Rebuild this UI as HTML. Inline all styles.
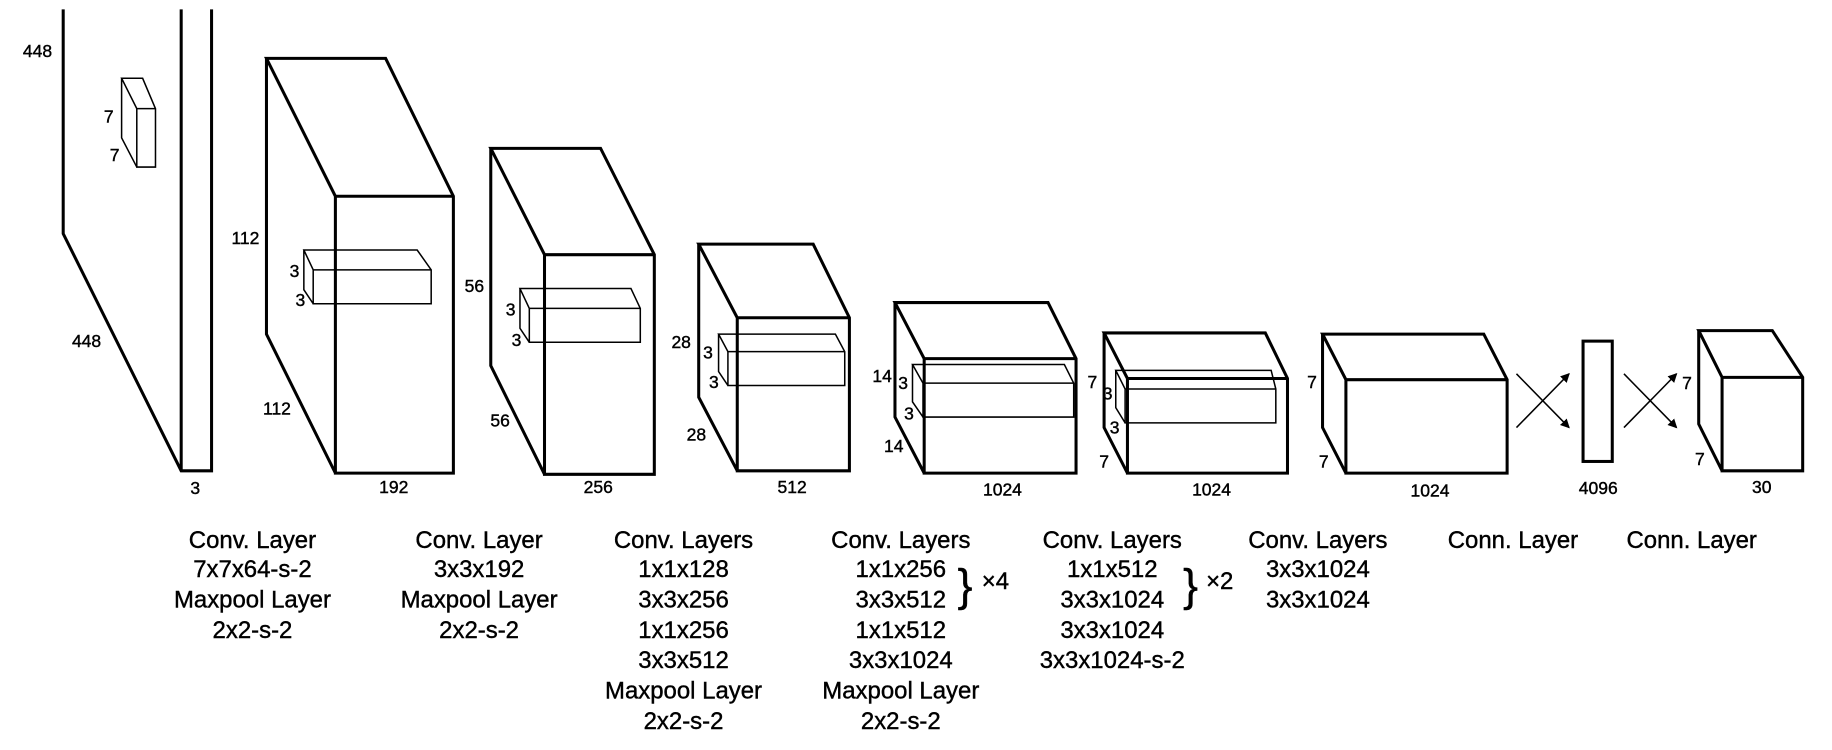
<!DOCTYPE html>
<html><head><style>
html,body{margin:0;padding:0;background:#fff;}
svg{display:block;}
text{font-family:"Liberation Sans",sans-serif;fill:#000;stroke:#000;stroke-width:0.35;}
.t{font-size:20.5px;text-anchor:middle;}
.s{font-size:15px;text-anchor:middle;}
</style></head><body>
<svg width="1832" height="750" viewBox="0 0 1568 642" xmlns="http://www.w3.org/2000/svg">
<defs><marker id="a" markerWidth="8" markerHeight="8" refX="7" refY="4" orient="auto" markerUnits="userSpaceOnUse"><path d="M0,0 L8,4 L0,8 Z" fill="#000"/></marker></defs>
<g fill="none" stroke="#000" stroke-width="2.6" stroke-linejoin="miter">
<path d="M54,8 V200 L155,403 H181 V8 M155,403 V8"/>
<path d="M228,50 H330 L388,168 V405 H287 V168 Z M287,168 H388 M228,50 V286 L287,405"/>
<path d="M420,127 H514 L560,218 V406 H466 V218 Z M466,218 H560 M420,127 V313 L466,406"/>
<path d="M598,209 H696 L727,272 V403 H631 V272 Z M631,272 H727 M598,209 V340 L631,403"/>
<path d="M766,259 H897 L921,307 V405 H791 V307 Z M791,307 H921 M766,259 V357 L791,405"/>
<path d="M945,285 H1083 L1102,324 V405 H965 V324 Z M965,324 H1102 M945,285 V366 L965,405"/>
<path d="M1132,286 H1270 L1290,325 V405 H1152 V325 Z M1152,325 H1290 M1132,286 V366 L1152,405"/>
<rect x="1355" y="292" width="25" height="103"/>
<path d="M1454,283 H1517 L1543,323 V403 H1474 V323 Z M1474,323 H1543 M1454,283 V363 L1474,403"/>
</g>
<g fill="none" stroke="#000" stroke-width="1.3">
<path d="M104,67 H122 L133,93 V143 H117 V93 Z M117,93 H133 M104,67 V118 L117,143 M104,67 L117,93"/>
<path d="M260,214 H357 L369,231 V260 H268 V231 Z M268,231 H369 M260,214 V248 L268,260 M260,214 L268,231"/>
<path d="M445,247 H540 L548,264 V293 H453 V264 Z M453,264 H548 M445,247 V281 L453,293 M445,247 L453,264"/>
<path d="M615,286 H715 L723,301 V330 H623 V301 Z M623,301 H723 M615,286 V318 L623,330 M615,286 L623,301"/>
<path d="M781,312 H911 L919,328 V357 H790 V328 Z M790,328 H919 M781,312 V344 L790,357 M781,312 L790,328"/>
<path d="M955,317 H1088 L1092,333 V362 H963 V333 Z M963,333 H1092 M955,317 V349 L963,362 M955,317 L963,333"/>
</g>
<g stroke="#000" stroke-width="1.3" marker-end="url(#a)">
<line x1="1298" y1="320" x2="1343" y2="366"/><line x1="1298" y1="366" x2="1343" y2="320"/>
<line x1="1390" y1="320" x2="1435" y2="366"/><line x1="1390" y1="366" x2="1435" y2="320"/>
</g>
<g class="s">
<text x="32" y="49">448</text><text x="74" y="297">448</text><text x="167" y="423">3</text>
<text x="93" y="105">7</text><text x="98" y="138">7</text>
<text x="210" y="209">112</text><text x="237" y="355">112</text><text x="337" y="422">192</text>
<text x="252" y="237">3</text><text x="257" y="262">3</text>
<text x="406" y="250">56</text><text x="428" y="365">56</text><text x="512" y="422">256</text>
<text x="437" y="270">3</text><text x="442" y="296">3</text>
<text x="583" y="298">28</text><text x="596" y="377">28</text><text x="678" y="422">512</text>
<text x="606" y="307">3</text><text x="611" y="332">3</text>
<text x="755" y="327">14</text><text x="765" y="387">14</text><text x="858" y="424">1024</text>
<text x="773" y="333">3</text><text x="778" y="359">3</text>
<text x="935" y="332">7</text><text x="945" y="400">7</text><text x="1037" y="424">1024</text>
<text x="948" y="342">3</text><text x="954" y="371">3</text>
<text x="1123" y="332">7</text><text x="1133" y="400">7</text><text x="1224" y="425">1024</text>
<text x="1368" y="423">4096</text>
<text x="1444" y="333">7</text><text x="1455" y="398">7</text><text x="1508" y="422">30</text>
</g>
<g class="t">
<text x="216" y="469">Conv. Layer</text><text x="216" y="494">7x7x64-s-2</text><text x="216" y="520">Maxpool Layer</text><text x="216" y="546">2x2-s-2</text>
<text x="410" y="469">Conv. Layer</text><text x="410" y="494">3x3x192</text><text x="410" y="520">Maxpool Layer</text><text x="410" y="546">2x2-s-2</text>
<text x="585" y="469">Conv. Layers</text><text x="585" y="494">1x1x128</text><text x="585" y="520">3x3x256</text><text x="585" y="546">1x1x256</text><text x="585" y="572">3x3x512</text><text x="585" y="598">Maxpool Layer</text><text x="585" y="624">2x2-s-2</text>
<text x="771" y="469">Conv. Layers</text><text x="771" y="494">1x1x256</text><text x="771" y="520">3x3x512</text><text x="771" y="546">1x1x512</text><text x="771" y="572">3x3x1024</text><text x="771" y="598">Maxpool Layer</text><text x="771" y="624">2x2-s-2</text>
<text x="952" y="469">Conv. Layers</text><text x="952" y="494">1x1x512</text><text x="952" y="520">3x3x1024</text><text x="952" y="546">3x3x1024</text><text x="952" y="572">3x3x1024-s-2</text>
<text x="1128" y="469">Conv. Layers</text><text x="1128" y="494">3x3x1024</text><text x="1128" y="520">3x3x1024</text>
<text x="1295" y="469">Conn. Layer</text><text x="1448" y="469">Conn. Layer</text>
<text x="826" y="514" style="font-size:38px">}</text><text x="852" y="504">×4</text>
<text x="1019" y="514" style="font-size:38px">}</text><text x="1044" y="504">×2</text>
</g>
</svg>
</body></html>
